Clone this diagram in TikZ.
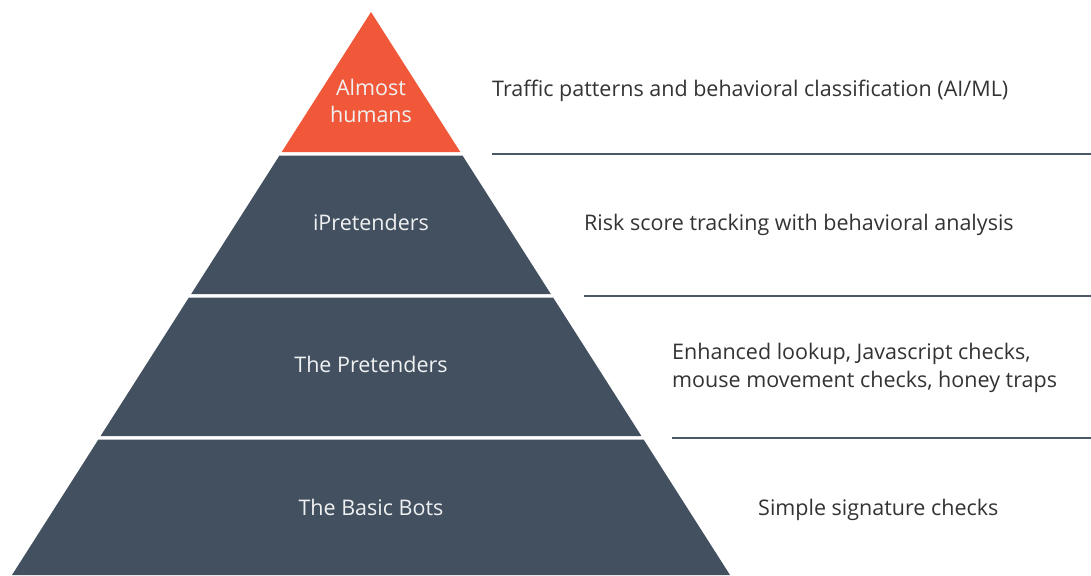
\documentclass[tikz,border=0pt]{standalone}
\usepackage{xcolor}
\usepackage{fontspec}
\setmainfont{Open Sans}
\usepackage{tikz}
\usetikzlibrary{positioning}

\definecolor{tipred}{HTML}{F15839}
\definecolor{slate}{HTML}{425060}
\definecolor{rulegray}{HTML}{4B5867}
\definecolor{txtgray}{HTML}{333333}

\begin{document}
\begin{tikzpicture}[x=1pt, y=-1pt,
    layer/.style={anchor=base, text=white!92!slate, font=\fontsize{21.5}{28}\selectfont, align=center, inner sep=0},
    note/.style={anchor=base west, text=txtgray, font=\fontsize{21.5}{28}\selectfont, align=left, inner sep=0},
    divider/.style={draw=rulegray, line width=2pt}]
\useasboundingbox (0,0) rectangle (1091,575);

% layers %
\fill[tipred] (371,12) -- (460.3,152) -- (281.7,152) -- cycle;
\fill[slate] (279.5,155.5) -- (462.5,155.5) -- (550.8,294) -- (191.2,294) -- cycle;
\fill[slate] (188.9,297.5) -- (553.1,297.5) -- (641.4,436) -- (100.6,436) -- cycle;
\fill[slate] (98.4,439.5) -- (643.6,439.5) -- (730,575) -- (12,575) -- cycle;

% nodes %
\node[layer] (top) at (371,123) {Almost\\humans};
\node[layer] (ipre) at (371,230) {iPretenders};
\node[layer] (pre) at (371,372) {The Pretenders};
\node[layer] (basic) at (371,515) {The Basic Bots};

\node[note] (n1) at (492,96) {Traffic patterns and behavioral classification (AI/ML)};
\node[note] (n2) at (584,230) {Risk score tracking with behavioral analysis};
\node[note] (n3) at (672,387) {Enhanced lookup, Javascript checks,\\mouse movement checks, honey traps};
\node[note] (n4) at (758,515) {Simple signature checks};

% dividers %
\coordinate (d1a) at (492,154);
\coordinate (d1b) at (1091,154);
\coordinate (d2a) at (584,296);
\coordinate (d2b) at (1091,296);
\coordinate (d3a) at (672,438);
\coordinate (d3b) at (1091,438);
\draw[divider] (d1a) -- (d1b);
\draw[divider] (d2a) -- (d2b);
\draw[divider] (d3a) -- (d3b);

\end{tikzpicture}
\end{document}
